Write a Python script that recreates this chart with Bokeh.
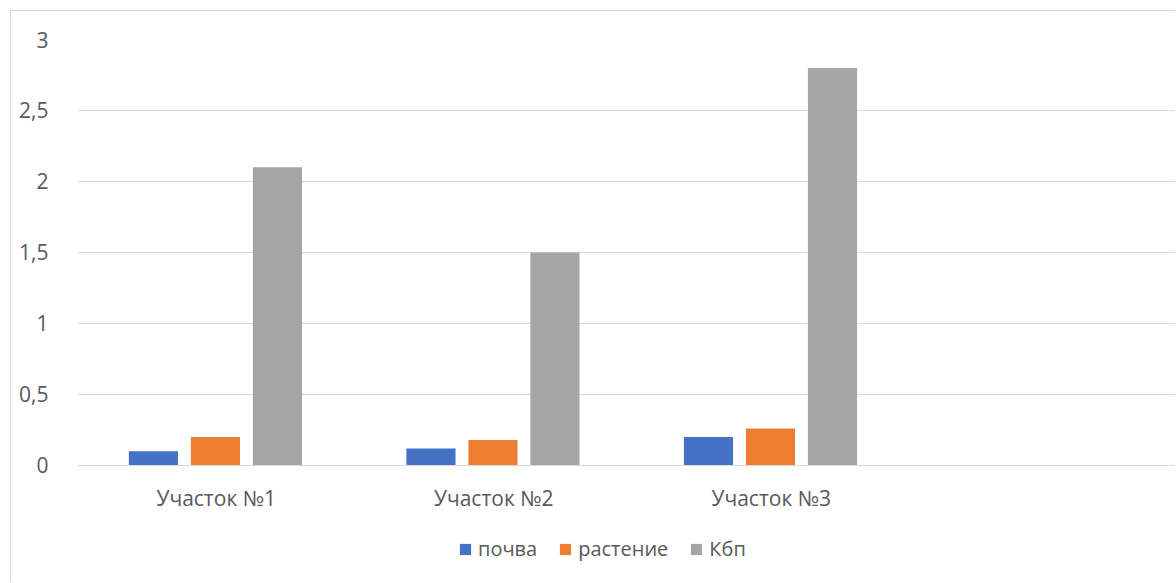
import numpy as np
from bokeh.plotting import figure
from bokeh.models import Range1d, FixedTicker, Legend, LegendItem
from bokeh.embed import file_html
from bokeh.resources import INLINE

categories = ["Участок №1", "Участок №2", "Участок №3"]
pochva = [0.1, 0.12, 0.2]
rastenie = [0.2, 0.18, 0.26]
kbp = [2.1, 1.5, 2.8]
series_names = ["почва", "растение", "Кбп"]
colors = ["#4472C4", "#ED7D31", "#A5A5A5"]
y_ticks = [0, 0.5, 1, 1.5, 2, 2.5, 3]
y_labels = ["0", "0,5", "1", "1,5", "2", "2,5", "3"]

FONT = "Open Sans"
TXT = "#595959"
FS = "21px"

p = figure(width=1165, height=571, output_backend="svg", toolbar_location=None,
           x_range=Range1d(0, 3.96), y_range=Range1d(-0.824, 3),
           min_border_left=66, min_border_right=0, min_border_top=28, min_border_bottom=0)
p.outline_line_color = None
p.background_fill_color = "white"
p.border_fill_color = "white"

centers = np.arange(len(categories)) + 0.5
step = 0.2234
width = 0.177
items = []
for i, (vals, name, col) in enumerate(zip([pochva, rastenie, kbp], series_names, colors)):
    r = p.vbar(x=centers + (i - 1) * step - 0.003, top=vals, bottom=0, width=width,
               fill_color=col, line_color=None)
    items.append(LegendItem(label=name, renderers=[r]))

# y axis
p.yaxis.ticker = FixedTicker(ticks=y_ticks)
p.yaxis.major_label_overrides = {t: l for t, l in zip(y_ticks, y_labels)}
p.yaxis.axis_line_color = None
p.yaxis.major_tick_line_color = None
p.yaxis.minor_tick_line_color = None
p.yaxis.major_label_standoff = 23
p.yaxis.major_label_text_font = FONT
p.yaxis.major_label_text_font_size = FS
p.yaxis.major_label_text_color = TXT

# x axis at y = 0
p.xaxis.fixed_location = 0
p.xaxis.ticker = FixedTicker(ticks=list(centers))
p.xaxis.major_label_overrides = {float(c): l for c, l in zip(centers, categories)}
p.xaxis.axis_line_color = "#D9D9D9"
p.xaxis.major_tick_line_color = None
p.xaxis.minor_tick_line_color = None
p.xaxis.major_label_standoff = 13
p.xaxis.major_label_text_font = FONT
p.xaxis.major_label_text_font_size = FS
p.xaxis.major_label_text_color = TXT

p.xgrid.grid_line_color = None
p.ygrid.ticker = FixedTicker(ticks=y_ticks)
p.ygrid.grid_line_color = "#D9D9D9"
p.ygrid.grid_line_width = 1

legend = Legend(items=items, orientation="horizontal", location=(381, 20),
                label_text_font=FONT, label_text_font_size="20px", label_text_color=TXT,
                glyph_width=14, glyph_height=14, label_standoff=6, spacing=21,
                border_line_color=None, background_fill_alpha=0, margin=0, padding=0)
p.add_layout(legend, "center")

p.styles = {"border-top": "1px solid #D9D9D9", "border-left": "1px solid #D9D9D9",
            "margin-top": "10px", "margin-left": "10px"}

open("out.html", "w").write(file_html(p, INLINE))
